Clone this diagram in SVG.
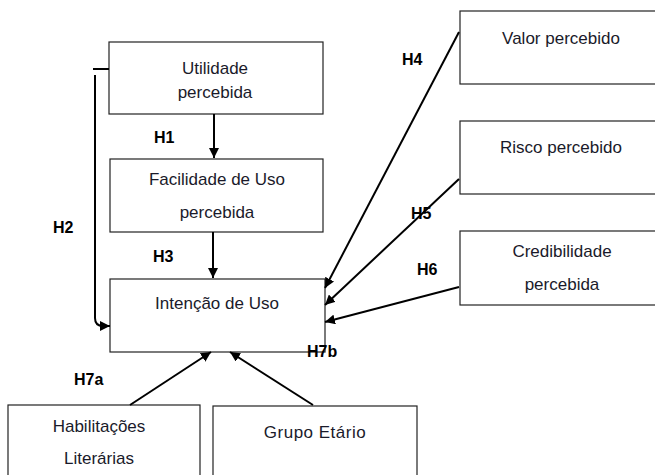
<svg xmlns="http://www.w3.org/2000/svg" width="655" height="475" viewBox="0 0 655 475">
<defs>
<marker id="ah" viewBox="0 0 10 10" refX="10" refY="5" markerWidth="10" markerHeight="10" markerUnits="userSpaceOnUse" orient="auto">
<path d="M0,0 L10,5 L0,10 z" fill="#000"/>
</marker>
<style>
.box{fill:#fff;stroke:#222;stroke-width:1.2}
.t{font-family:"Liberation Sans",Arial,sans-serif;font-size:17px;fill:#1a1a2a;text-anchor:middle}
.h{font-family:"Liberation Sans",Arial,sans-serif;font-size:16px;font-weight:bold;fill:#000}
.c{fill:none;stroke:#000;stroke-width:2;marker-end:url(#ah)}
.p{fill:none;stroke:#000;stroke-width:2}
</style>
</defs>
<rect width="655" height="475" fill="#fff"/>
<g id="utilidade"><rect class="box" x="109" y="42" width="214" height="72"/><text class="t" x="215" y="74">Utilidade</text><text class="t" x="215" y="98">percebida</text></g>
<g id="facilidade"><rect class="box" x="110" y="159" width="213" height="73"/><text class="t" x="217" y="185">Facilidade de Uso</text><text class="t" x="217" y="218">percebida</text></g>
<g id="intencao"><rect class="box" x="110" y="279" width="215" height="73"/><text class="t" x="217" y="309">Intenção de Uso</text></g>
<g id="valor"><rect class="box" x="460" y="11" width="200" height="73"/><text class="t" x="561" y="44">Valor percebido</text></g>
<g id="risco"><rect class="box" x="460" y="121" width="200" height="73"/><text class="t" x="561" y="153">Risco percebido</text></g>
<g id="credibilidade"><rect class="box" x="460" y="231" width="200" height="74"/><text class="t" x="562" y="257">Credibilidade</text><text class="t" x="562" y="290">percebida</text></g>
<g id="habilitacoes"><rect class="box" x="8" y="405" width="192" height="80"/><text class="t" x="99" y="432">Habilitações</text><text class="t" x="99" y="464">Literárias</text></g>
<g id="grupo"><rect class="box" x="213" y="406" width="204" height="80"/><text class="t" x="315" y="438" letter-spacing="0.5">Grupo Etário</text></g>
<g id="connectors">
<path class="c" d="M214,114 V158"/>
<path class="c" d="M213,232 V278"/>
<path class="p" d="M109,69 H93"/>
<path class="c" d="M95,75 V318 Q95,326 103,326 H110"/>
<path class="c" d="M459,32 L325,288"/>
<path class="c" d="M459,179 L325,305"/>
<path class="c" d="M459,287 L325,322"/>
<path class="c" d="M130,405 L211,352"/>
<path class="c" d="M313,405 L230,352"/>
</g>
<g id="labels">
<text class="h" x="154" y="143">H1</text>
<text class="h" x="53" y="233">H2</text>
<text class="h" x="153" y="262">H3</text>
<text class="h" x="402" y="65">H4</text>
<text class="h" x="411" y="219">H5</text>
<text class="h" x="417" y="275">H6</text>
<text class="h" x="74" y="385">H7a</text>
<text class="h" x="307" y="357">H7b</text>
</g>
</svg>
